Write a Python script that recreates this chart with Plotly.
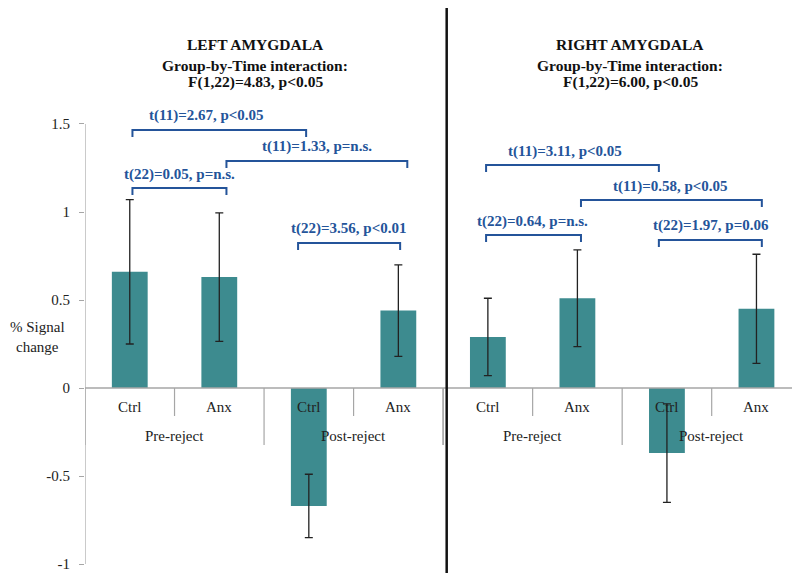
import plotly.graph_objects as go

# ---------------- data ----------------
panels = ["LEFT AMYGDALA", "RIGHT AMYGDALA"]
panel_stats = ["F(1,22)=4.83, p&lt;0.05", "F(1,22)=6.00, p&lt;0.05"]
phases = ["Pre-reject", "Post-reject"]
groups = ["Ctrl", "Anx", "Ctrl", "Anx"]

left_mean = [0.66, 0.63, -0.67, 0.44]
left_err = [0.41, 0.365, 0.18, 0.26]
right_mean = [0.29, 0.51, -0.37, 0.45]
right_err = [0.22, 0.275, 0.28, 0.31]

y_ticks = [-1, -0.5, 0, 0.5, 1, 1.5]
y_ticktext = ["-1", "-0.5", "0", "0.5", "1", "1.5"]

# comparison brackets: (from bar position, to bar position, level, label, label centre)
brackets = [
    (0.03, 1.97, 1.466, "t(11)=2.67, p&lt;0.05", 0.86),
    (1.08, 3.10, 1.290, "t(11)=1.33, p=n.s.", 2.09),
    (0.03, 1.08, 1.136, "t(22)=0.05, p=n.s.", 0.55),
    (1.88, 3.02, 0.824, "t(22)=3.56, p&lt;0.01", 2.44),
    (3.98, 5.91, 1.267, "t(11)=3.11, p&lt;0.05", 4.86),
    (5.04, 7.06, 1.068, "t(11)=0.58, p&lt;0.05", 6.04),
    (3.98, 5.04, 0.869, "t(22)=0.64, p=n.s.", 4.50),
    (5.91, 7.06, 0.841, "t(22)=1.97, p=0.06", 6.49),
]

# ---------------- styling ----------------
BAR = "#3d8b8f"
BLUE = "#24549a"
GRAY = "#a6a6a6"
FONT = "Liberation Serif"
W, H = 792, 573
ML, MT, MB = 85, 0, 9

means = left_mean + right_mean
errs = left_err + right_err
xs = list(range(len(means)))

fig = go.Figure()
fig.add_trace(go.Bar(
    x=xs, y=means, width=0.4,
    marker=dict(color=BAR, line=dict(width=0)),
    error_y=dict(type="data", array=errs, visible=True, color="#222222",
                 thickness=1.3, width=4),
    showlegend=False, hoverinfo="skip",
))

shapes = []
annotations = []

# y axis line
shapes.append(dict(type="line", xref="x", yref="y", x0=-0.5, x1=-0.5, y0=-1, y1=1.5,
                   line=dict(color=GRAY, width=1.2)))
# zero / category axis line
shapes.append(dict(type="line", xref="x", yref="y", x0=-0.5, x1=7.5, y0=0, y1=0,
                   line=dict(color=GRAY, width=1.5)))

# category labels and separators
n_per_panel = len(groups)
for p in range(len(panels)):
    base = p * n_per_panel
    for i, g in enumerate(groups):
        annotations.append(dict(x=base + i, y=-0.108, xref="x", yref="y", text=g,
                                showarrow=False, font=dict(family=FONT, size=15, color="#222222")))
    # short separators between Ctrl and Anx
    for i in range(0, n_per_panel, 2):
        xb = base + i + 0.5
        shapes.append(dict(type="line", xref="x", yref="y", x0=xb, x1=xb, y0=0, y1=-0.159,
                           line=dict(color=GRAY, width=1.2)))
    for k, ph in enumerate(phases):
        annotations.append(dict(x=base + 2 * k + 0.5, y=-0.273, xref="x", yref="y", text=ph,
                                showarrow=False, font=dict(family=FONT, size=15, color="#222222")))
    # long separators between phases
    for k in range(len(phases) + 1):
        xb = base + 2 * k - 0.5
        shapes.append(dict(type="line", xref="x", yref="y", x0=xb, x1=xb, y0=0, y1=-0.324,
                           line=dict(color=GRAY, width=1.2)))

# panel divider
shapes.append(dict(type="line", xref="x", yref="paper", x0=3.54, x1=3.54, y0=-0.03, y1=0.986,
                   line=dict(color="#111111", width=2.5)))

# panel titles
title_x = [1.40, 5.59]
for p, name in enumerate(panels):
    for text, yy in [(name, 1.949), ("Group-by-Time interaction:", 1.835), (panel_stats[p], 1.739)]:
        annotations.append(dict(x=title_x[p], y=yy, xref="x", yref="y", text="<b>" + text + "</b>",
                                showarrow=False, font=dict(family=FONT, size=15.5, color="#111111")))

# brackets
leg = 0.04
for x0, x1, lvl, lab, lx in brackets:
    shapes.append(dict(type="path", xref="x", yref="y",
                       path=f"M {x0},{lvl - leg} L {x0},{lvl} L {x1},{lvl} L {x1},{lvl - leg}",
                       line=dict(color=BLUE, width=2)))
    annotations.append(dict(x=lx, y=lvl, xref="x", yref="y", yshift=14,
                            text="<b>" + lab + "</b>", showarrow=False,
                            font=dict(family=FONT, size=15, color=BLUE)))

# y-axis title (paper coords)
plot_w = W - ML
plot_h = H - MT - MB
annotations.append(dict(x=(38 - ML) / plot_w, y=(H - MB - 337) / plot_h, xref="paper", yref="paper",
                        text="% Signal<br>change", showarrow=False, xanchor="center", yanchor="middle",
                        font=dict(family=FONT, size=15, color="#222222")))

fig.update_layout(
    width=W, height=H,
    margin=dict(l=ML, r=0, t=MT, b=MB, autoexpand=False),
    plot_bgcolor="white", paper_bgcolor="white",
    shapes=shapes, annotations=annotations,
    xaxis=dict(range=[-0.5, 7.397], visible=False, fixedrange=True),
    yaxis=dict(range=[-1, 2.2045], tickvals=y_ticks, ticktext=y_ticktext,
               ticks="outside", ticklen=5, tickcolor=GRAY, tickwidth=1.2,
               showgrid=False, zeroline=False, showline=False, fixedrange=True,
               ticklabelstandoff=6,
               tickfont=dict(family=FONT, size=15, color="#222222")),
    font=dict(family=FONT),
)

fig.write_html("out.html", config={"displayModeBar": False},
               post_script="document.body.style.margin='0';document.body.style.overflow='hidden';")
